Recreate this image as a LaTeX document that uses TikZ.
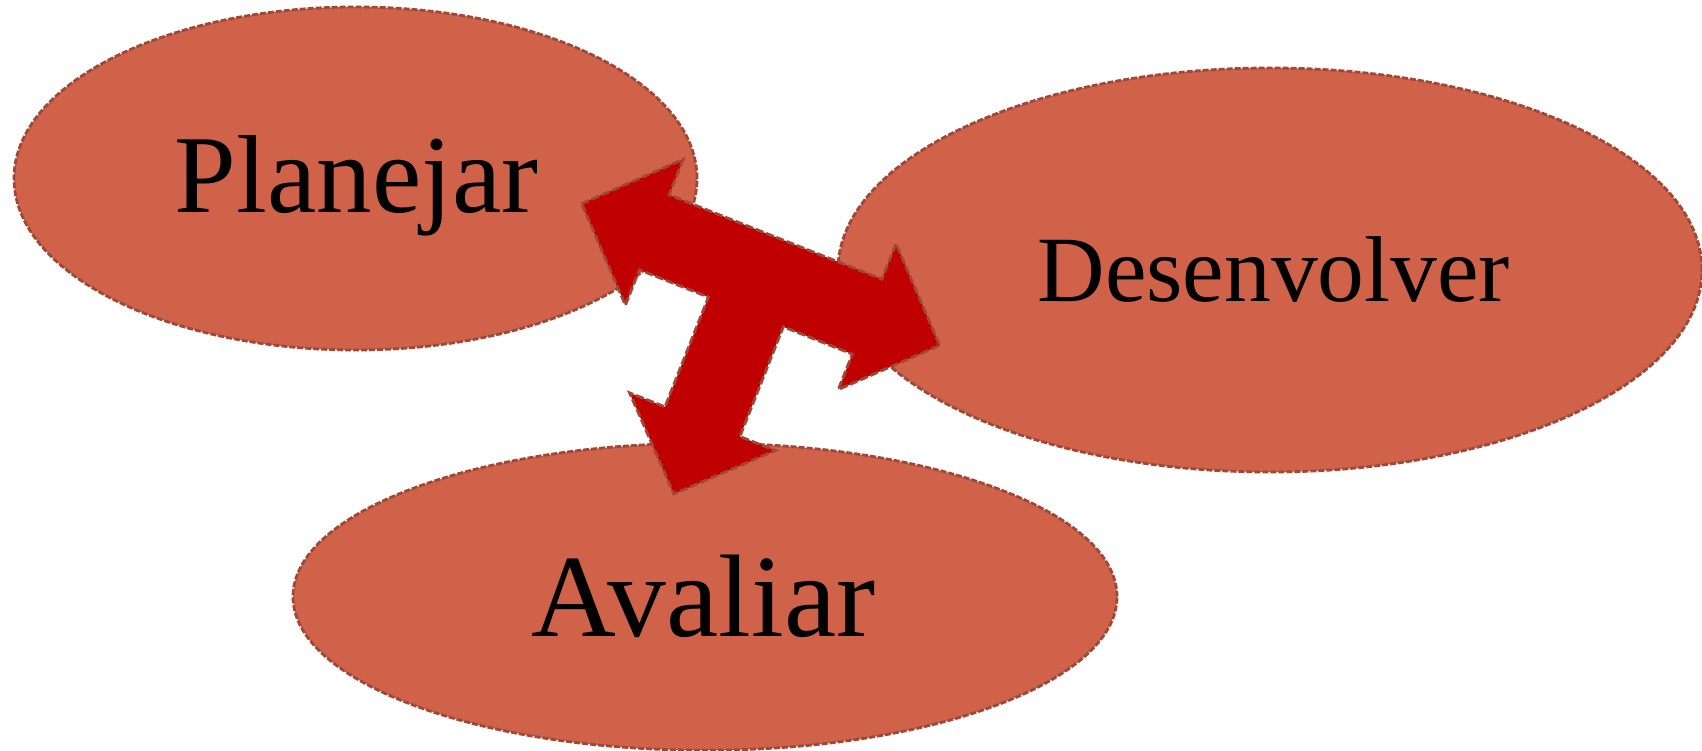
\documentclass[tikz,border=0pt]{standalone}
\usepackage{fontspec}
\setmainfont{Liberation Serif}
\usetikzlibrary{shapes.geometric}
\definecolor{ellfill}{RGB}{208,98,74}
\definecolor{ellline}{RGB}{160,72,55}
\definecolor{arrfill}{RGB}{192,0,0}
\begin{document}
\begin{tikzpicture}[x=1pt,y=1pt,
  blob/.style={ellipse, fill=ellfill, draw=ellline, line width=2.8pt, dash pattern=on 6pt off 2pt, inner sep=0pt, outer sep=0pt},
  lbl/.style={anchor=base, inner sep=0pt, text=black},
  bigarrow/.style={fill=arrfill, draw=ellline, line width=2.8pt, dash pattern=on 8pt off 3pt, line join=miter}]
\useasboundingbox (0,0) rectangle (1702,-751);
\node[blob, minimum width=683pt, minimum height=343pt] (planejar) at (355.5,-178.5) {};
\node[blob, minimum width=864pt, minimum height=404pt] (desenvolver) at (1270,-270) {};
\node[blob, minimum width=824pt, minimum height=307pt] (avaliar) at (705,-596.7) {};
\node[lbl, font=\fontsize{111}{120}\selectfont] (tplanejar) at (356.5,-212.7) {Planejar};
\node[lbl, font=\fontsize{93.5}{110}\selectfont] (tdesenvolver) at (1273.8,-301.7) {Desenvolver};
\node[lbl, font=\fontsize{117.5}{130}\selectfont] (tavaliar) at (703.5,-636.7) {Avaliar};
\begin{scope}[shift={(760.7,-274.5)}, rotate=-21.6]
\draw[bigarrow] (-192.5,0) -- (-114.5,78.4) -- (-114.5,40.3) -- (114.5,40.3) -- (114.5,78.4) -- (192.5,0) -- (114.5,-78.4) -- (114.5,-40.3) -- (40.3,-40.3) -- (40.3,-158.3) -- (78.4,-158.3) -- (0,-236) -- (-78.4,-158.3) -- (-40.3,-158.3) -- (-40.3,-40.3) -- (-114.5,-40.3) -- (-114.5,-78.4) -- cycle;
\end{scope}
\end{tikzpicture}
\end{document}
